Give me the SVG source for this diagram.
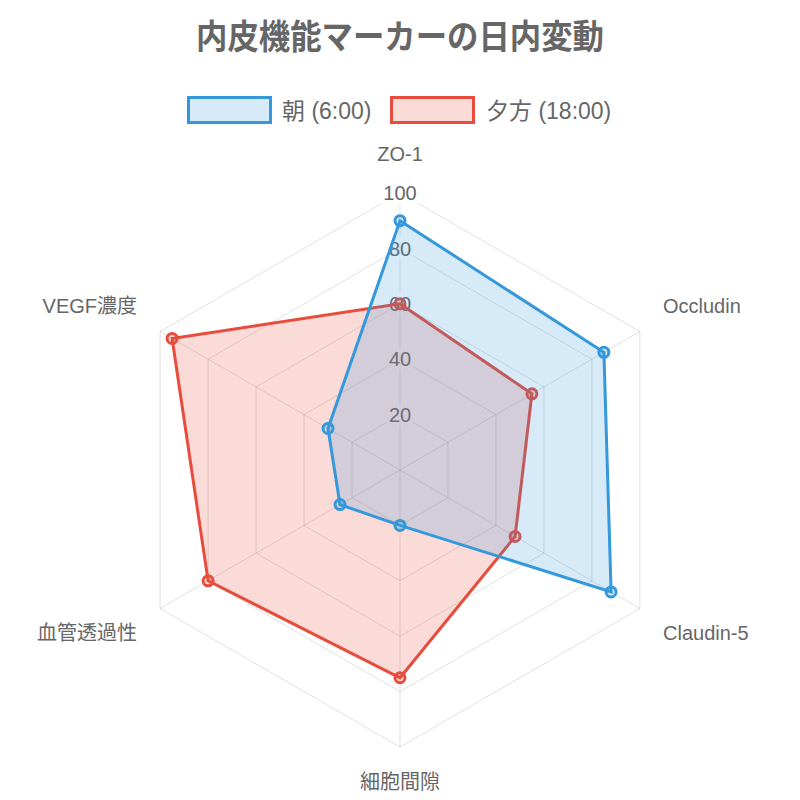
<svg xmlns="http://www.w3.org/2000/svg" width="800" height="800" viewBox="0 0 800 800">
<style>
text{font-family:"Liberation Sans","Noto Sans CJK JP",sans-serif;fill:#666}
.grid{fill:none;stroke:rgba(0,0,0,0.12);stroke-width:1}
.tick{font-size:20px;text-anchor:middle}
.bd{fill:rgba(255,255,255,0.75)}
.plabel{font-size:20px}
.blueFill{fill:rgba(52,152,219,0.2);stroke:none}
.redFill{fill:rgba(231,76,60,0.2);stroke:none}
.blueLine{fill:none;stroke:#3498db;stroke-width:3;stroke-linejoin:miter}
.redLine{fill:none;stroke:#e74c3c;stroke-width:3;stroke-linejoin:miter}
.bpt{fill:rgba(52,152,219,0.2);stroke:#3498db;stroke-width:3}
.rpt{fill:rgba(231,76,60,0.2);stroke:#e74c3c;stroke-width:3}
.leg{font-size:23px}
</style>
<rect width="800" height="800" fill="#fff"/>
<text x="400" y="49" text-anchor="middle" style="font-size:34px;font-weight:bold" textLength="408" lengthAdjust="spacingAndGlyphs">内皮機能マーカーの日内変動</text>
<g id="legend">
<rect x="188.5" y="97.5" width="82" height="25" fill="rgba(52,152,219,0.2)" stroke="#3498db" stroke-width="3"/>
<text class="leg" x="282" y="119">朝 (6:00)</text>
<rect x="391.5" y="97.5" width="82" height="25" fill="rgba(231,76,60,0.2)" stroke="#e74c3c" stroke-width="3"/>
<text class="leg" x="486" y="119">夕方 (18:00)</text>
</g>
<g id="grid">
<polygon class="grid" points="400,414.6 447.98,442.3 447.98,497.7 400,525.4 352.02,497.7 352.02,442.3"/>
<polygon class="grid" points="400,359.2 495.95,414.6 495.95,525.4 400,580.8 304.05,525.4 304.05,414.6"/>
<polygon class="grid" points="400,303.8 543.93,386.9 543.93,553.1 400,636.2 256.07,553.1 256.07,386.9"/>
<polygon class="grid" points="400,248.4 591.91,359.2 591.91,580.8 400,691.6 208.09,580.8 208.09,359.2"/>
<polygon class="grid" points="400,193 639.89,331.5 639.89,608.5 400,747 160.11,608.5 160.11,331.5"/>
<path class="grid" d="M400,470L400,193M400,470L639.89,331.5M400,470L639.89,608.5M400,470L400,747M400,470L160.11,608.5M400,470L160.11,331.5"/>
</g>
<g id="ticks">
<rect class="bd" x="386.9" y="402.6" width="26.2" height="24"/>
<text class="tick" x="400" y="421.8">20</text>
<rect class="bd" x="386.9" y="347.2" width="26.2" height="24"/>
<text class="tick" x="400" y="366.4">40</text>
<rect class="bd" x="386.9" y="291.8" width="26.2" height="24"/>
<text class="tick" x="400" y="311">60</text>
<rect class="bd" x="386.9" y="236.4" width="26.2" height="24"/>
<text class="tick" x="400" y="255.6">80</text>
<rect class="bd" x="381.3" y="181" width="37.4" height="24"/>
<text class="tick" x="400" y="200.2">100</text>
</g>
<g id="point-labels">
<text class="plabel" x="400" y="161" text-anchor="middle">ZO-1</text>
<text class="plabel" x="663" y="313">Occludin</text>
<text class="plabel" x="663" y="640">Claudin-5</text>
<text class="plabel" x="400" y="789" text-anchor="middle">細胞間隙</text>
<text class="plabel" x="137" y="640" text-anchor="end">血管透過性</text>
<text class="plabel" x="137" y="313" text-anchor="end">VEGF濃度</text>
</g>
<g id="connectors">
<g id="dataset-evening">
<polygon class="redFill" points="400,303.8 531.9,393.8 515.1,536.5 400,677.75 208.09,580.8 172.1,338.4"/>
<polygon class="redLine" points="400,303.8 531.9,393.8 515.1,536.5 400,677.75 208.09,580.8 172.1,338.4"/>
<circle class="rpt" cx="400" cy="303.8" r="5"/>
<circle class="rpt" cx="531.9" cy="393.8" r="5"/>
<circle class="rpt" cx="515.1" cy="536.5" r="5"/>
<circle class="rpt" cx="400" cy="677.75" r="5"/>
<circle class="rpt" cx="208.09" cy="580.8" r="5"/>
<circle class="rpt" cx="172.1" cy="338.4" r="5"/>
</g>
<g id="dataset-morning">
<polygon class="blueFill" points="400,220.7 603.9,352.3 611.1,591.9 400,525.4 340,504.6 328,428.45"/>
<polygon class="blueLine" points="400,220.7 603.9,352.3 611.1,591.9 400,525.4 340,504.6 328,428.45"/>
<circle class="bpt" cx="400" cy="220.7" r="5"/>
<circle class="bpt" cx="603.9" cy="352.3" r="5"/>
<circle class="bpt" cx="611.1" cy="591.9" r="5"/>
<circle class="bpt" cx="400" cy="525.4" r="5"/>
<circle class="bpt" cx="340" cy="504.6" r="5"/>
<circle class="bpt" cx="328" cy="428.45" r="5"/>
</g>
</g>
</svg>
